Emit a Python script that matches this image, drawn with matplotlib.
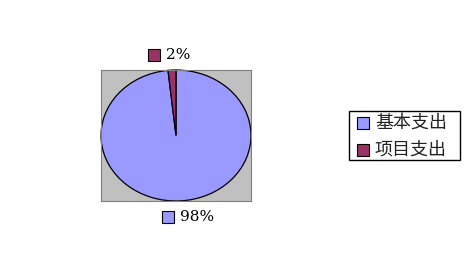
import matplotlib
matplotlib.use("Agg")
import matplotlib.pyplot as plt
from matplotlib.lines import Line2D
from matplotlib.patches import Rectangle

categories = ["基本支出", "项目支出"]
values = [98.3, 1.7]
colors = ["#9999FF", "#993366"]

W, H = 470, 273
fig = plt.figure(figsize=(W / 100, H / 100), dpi=100)
fig.patch.set_facecolor("white")
renderer = fig.canvas.get_renderer()

CJK = ["Noto Sans CJK SC", "DejaVu Sans"]


def fit_size(text, family, target_px):
    t = fig.text(0, 0, text, fontsize=10, family=family)
    w = t.get_window_extent(renderer=renderer).width
    t.remove()
    return 10 * target_px / w


leg_fs = fit_size(categories[0], CJK, 72)
pct_fs = fit_size("98%", "DejaVu Serif", 34)

# plot area in pixels: x 101-251, y 70-201
ax = fig.add_axes([101 / W, 1 - 201 / H, 150 / W, 131 / H])
ax.set_facecolor("#C0C0C0")
wedges, _ = ax.pie(values, colors=colors, startangle=90, counterclock=False,
                   wedgeprops=dict(edgecolor="black", linewidth=0.9),
                   radius=1.0, frame=True)
ax.set_aspect("auto")
ax.set_xlim(-1.0, 1.0)
ax.set_ylim(-1.0, 1.0)
ax.set_xticks([])
ax.set_yticks([])
for s in ax.spines.values():
    s.set_color("#808080")
    s.set_linewidth(0.8)

# data labels with legend keys
label_pos = [(0.447, -0.122), (0.353, 1.115)]
for v, c, (x, y) in zip(values, colors, label_pos):
    ax.plot([x], [y], marker="s", markersize=8.2, markerfacecolor=c,
            markeredgecolor="black", markeredgewidth=0.8,
            transform=ax.transAxes, clip_on=False)
    ax.text(x + 0.08, y, f"{v:.0f}%", transform=ax.transAxes,
            ha="left", va="center", fontsize=pct_fs, family="DejaVu Serif",
            color="black", clip_on=False)

# legend (drawn by hand for exact placement)
fig.add_artist(Rectangle((349 / W, 1 - 160 / H), 111 / W, 49.3 / H,
                         transform=fig.transFigure, facecolor="white",
                         edgecolor="black", linewidth=1.0, zorder=1))
row_y = [122.5, 149.5]
for cat, c, ry in zip(categories, colors, row_y):
    fig.add_artist(Line2D([362.8 / W], [1 - ry / H], transform=fig.transFigure,
                          marker="s", linestyle="none", markersize=8.2,
                          markerfacecolor=c, markeredgecolor="black",
                          markeredgewidth=0.8, zorder=2))
    fig.text(375 / W, 1 - (ry + 0.5) / H, cat, ha="left", va="center",
             fontsize=leg_fs, family=CJK, color="#222222", zorder=2)

fig.savefig("out.png", dpi=100, facecolor="white")
